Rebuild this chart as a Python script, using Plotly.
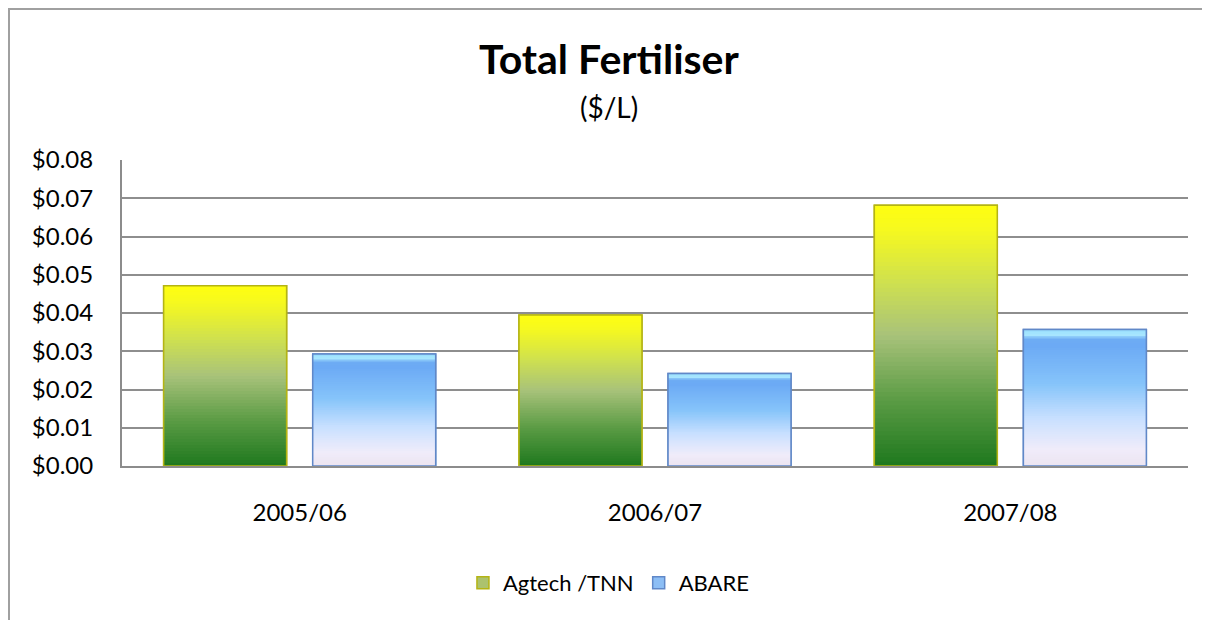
import plotly.graph_objects as go

categories = ["2005/06", "2006/07", "2007/08"]
agtech = [0.0471, 0.0395, 0.0682]
abare = [0.0293, 0.0242, 0.0357]
series_names = ["Agtech /TNN", "ABARE"]
y_ticks = [0.00, 0.01, 0.02, 0.03, 0.04, 0.05, 0.06, 0.07, 0.08]

FONT = "Lato, 'Open Sans', sans-serif"

# gradient stops: (fraction from bottom, rgb)
grad_agtech = [(0.0, (30, 120, 30)), (0.25, (90, 155, 68)), (0.5, (168, 194, 122)),
               (0.7, (206, 224, 80)), (0.9, (245, 248, 32)), (1.0, (255, 255, 16))]
grad_abare = [(0.0, (236, 228, 240)), (0.12, (240, 236, 250)), (0.35, (200, 224, 255)),
              (0.6, (134, 196, 250)), (0.88, (108, 170, 245)), (0.93, (110, 172, 244)),
              (0.96, (170, 232, 255)), (1.0, (150, 220, 252))]


def interp(stops, t):
    for (t0, c0), (t1, c1) in zip(stops[:-1], stops[1:]):
        if t0 <= t <= t1:
            f = 0 if t1 == t0 else (t - t0) / (t1 - t0)
            c = [round(a + (b - a) * f) for a, b in zip(c0, c1)]
            return f"rgb({c[0]},{c[1]},{c[2]})"
    c = stops[-1][1]
    return f"rgb({c[0]},{c[1]},{c[2]})"


fig = go.Figure()
N = 60
specs = [
    (series_names[0], agtech, grad_agtech, "rgb(180,180,20)", "rgb(172,194,110)"),
    (series_names[1], abare, grad_abare, "rgb(96,136,200)", "rgb(140,190,245)"),
]
for name, vals, grad, edge, mid in specs:
    # base bar carrying legend entry
    fig.add_trace(go.Bar(x=categories, y=vals, name=name, offsetgroup=name,
                         marker=dict(color=mid, line=dict(color=edge, width=1.5)),
                         hoverinfo="skip"))
    for i in range(N):
        base = [v * i / N for v in vals]
        top = [min(v * (i + 1.6) / N, v) for v in vals]
        h = [t - b for t, b in zip(top, base)]
        fig.add_trace(go.Bar(x=categories, y=h, base=base, offsetgroup=name,
                             showlegend=False, hoverinfo="skip",
                             marker=dict(color=interp(grad, (i + 0.5) / N), line=dict(width=0))))
    fig.add_trace(go.Bar(x=categories, y=vals, offsetgroup=name, showlegend=False,
                         marker=dict(color="rgba(0,0,0,0)", line=dict(color=edge, width=1.5)),
                         hoverinfo="skip"))

CX = 0.4568  # horizontal centre of the whole chart frame, in plot-paper units

fig.update_layout(
    width=1210, height=620,
    margin=dict(l=114, r=30, t=152, b=162),
    paper_bgcolor="white", plot_bgcolor="white",
    barmode="group", bargap=0.161, bargroupgap=0.175,
    font=dict(family=FONT, size=24, color="black"),
    showlegend=True,
    legend=dict(orientation="h", x=CX, xanchor="center", y=-0.3824, yanchor="middle",
                font=dict(size=22), itemwidth=30, bgcolor="rgba(0,0,0,0)"),
    xaxis=dict(showgrid=False, showline=True, linecolor="#8C8C8C", linewidth=2,
               ticks="", tickfont=dict(size=24), ticklabelstandoff=24),
    yaxis=dict(range=[0, 0.08], tickvals=y_ticks, tickformat="$.2f",
               showgrid=True, gridcolor="#8E8E8E", gridwidth=1.5,
               showline=True, linecolor="#8C8C8C", linewidth=2, zeroline=False,
               ticks="", tickfont=dict(size=24), ticklabelstandoff=22),
    annotations=[
        dict(text="<b>Total Fertiliser</b>", x=CX, y=1.3317, xref="paper", yref="paper",
             xanchor="center", yanchor="middle", showarrow=False, font=dict(size=41)),
        dict(text="($/L)", x=CX, y=1.1732, xref="paper", yref="paper",
             xanchor="center", yanchor="middle", showarrow=False, font=dict(size=28)),
    ],
    shapes=[dict(type="rect", xref="paper", yref="paper", x0=-0.106, y0=-0.7,
                 x1=1.2, y1=1.4935, line=dict(color="#A0A0A0", width=2), layer="below")],
)

fig.write_html("out.html")
